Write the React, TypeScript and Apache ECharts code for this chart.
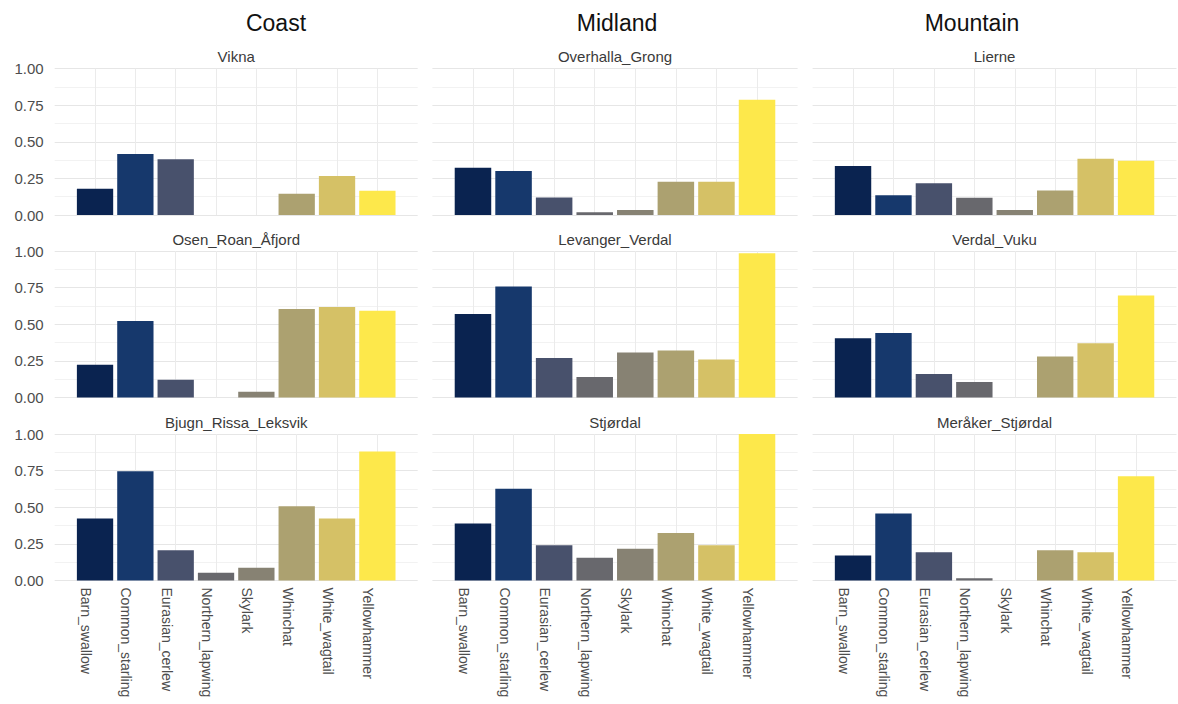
import React, { useEffect, useRef } from "react";
import * as echarts from "echarts";

const species = [
  "Barn_swallow",
  "Common_starling",
  "Eurasian_cerlew",
  "Northern_lapwing",
  "Skylark",
  "Whinchat",
  "White_wagtail",
  "Yellowhammer",
];

const palette = ["#0a2350", "#16386c", "#48516c", "#68686d", "#878273", "#aca170", "#d5c166", "#fde84b"];

const regions = ["Coast", "Midland", "Mountain"];

const panelTitles = [
  ["Vikna", "Overhalla_Grong", "Lierne"],
  ["Osen_Roan_Åfjord", "Levanger_Verdal", "Verdal_Vuku"],
  ["Bjugn_Rissa_Leksvik", "Stjørdal", "Meråker_Stjørdal"],
];

const vikna = [0.18, 0.416, 0.38, 0, 0, 0.145, 0.266, 0.166];
const overhallaGrong = [0.323, 0.3, 0.12, 0.018, 0.034, 0.227, 0.227, 0.786];
const lierne = [0.334, 0.134, 0.216, 0.118, 0.034, 0.168, 0.384, 0.37];
const osenRoanAfjord = [0.224, 0.523, 0.122, 0, 0.04, 0.604, 0.618, 0.593];
const levangerVerdal = [0.57, 0.758, 0.27, 0.14, 0.308, 0.32, 0.26, 0.984];
const verdalVuku = [0.405, 0.44, 0.16, 0.106, 0, 0.28, 0.37, 0.697];
const bjugnRissaLeksvik = [0.423, 0.746, 0.206, 0.053, 0.087, 0.506, 0.423, 0.881];
const stjordal = [0.389, 0.627, 0.24, 0.156, 0.217, 0.325, 0.24, 1.0];
const merakerStjordal = [0.17, 0.458, 0.192, 0.016, 0, 0.206, 0.192, 0.712];

const panelValues = [
  [vikna, overhallaGrong, lierne],
  [osenRoanAfjord, levangerVerdal, verdalVuku],
  [bjugnRissaLeksvik, stjordal, merakerStjordal],
];

const yTicks = [0, 0.25, 0.5, 0.75, 1];

export default function App() {
  const ref = useRef<HTMLDivElement>(null);

  useEffect(() => {
    if (!ref.current) return;
    const chart = echarts.init(ref.current, null, { renderer: "svg" });

    // padded categories: one empty slot at each end so the panel extends past the bars
    const cats = ["", ...species, ""];

    const colLefts = [54.7, 432.4, 812.6];
    const colWidths = [363, 365.2, 363.9];
    const rowTops = [68.5, 251, 434];
    const rowHeight = 146.5;
    const headerX = [276, 617, 972];

    const grids: any[] = [];
    const xAxes: any[] = [];
    const yAxes: any[] = [];
    const series: any[] = [];
    const graphics: any[] = [];

    regions.forEach((r, c) => {
      graphics.push({
        type: "text",
        x: headerX[c],
        y: 23,
        style: {
          text: r,
          fill: "#111",
          font: "23px 'Liberation Sans', Arial, sans-serif",
          textAlign: "center",
          textVerticalAlign: "middle",
        },
      });
    });

    for (let row = 0; row < 3; row++) {
      for (let col = 0; col < 3; col++) {
        const idx = row * 3 + col;
        grids.push({
          left: colLefts[col],
          top: rowTops[row],
          width: colWidths[col],
          height: rowHeight,
          containLabel: false,
        });
        xAxes.push({
          type: "category",
          gridIndex: idx,
          data: cats,
          boundaryGap: false,
          axisLine: { show: false },
          axisTick: { show: false },
          axisLabel: {
            show: row === 2,
            interval: 0,
            rotate: -90,
            margin: 7,
            verticalAlign: "top",
            lineHeight: 18,
            color: "#4d4d4d",
            fontSize: 14,
            fontFamily: "'Liberation Sans', Arial, sans-serif",
          },
          splitLine: {
            show: true,
            interval: (_i: number, v: string) => v !== "",
            lineStyle: { color: "#ebebeb", width: 1 },
          },
        });
        yAxes.push({
          type: "value",
          gridIndex: idx,
          min: 0,
          max: 1,
          interval: 0.25,
          axisLine: { show: false },
          axisTick: { show: false },
          axisLabel: {
            show: col === 0,
            color: "#4d4d4d",
            fontSize: 15,
            margin: 11,
            fontFamily: "'Liberation Sans', Arial, sans-serif",
            formatter: (v: number) => (yTicks.includes(v) ? v.toFixed(2) : ""),
          },
          splitLine: { show: true, lineStyle: { color: "#e6e6e6", width: 1 } },
          minorTick: { show: false, splitNumber: 2 },
          minorSplitLine: { show: true, lineStyle: { color: "#f2f2f2", width: 1 } },
        });
        series.push({
          type: "bar",
          xAxisIndex: idx,
          yAxisIndex: idx,
          data: ["-", ...panelValues[row][col], "-"],
          barCategoryGap: "10%",
          itemStyle: {
            color: (p: any) => palette[p.dataIndex - 1],
          },
          silent: true,
        });
        graphics.push({
          type: "text",
          x: colLefts[col] + colWidths[col] / 2,
          y: rowTops[row] - 12,
          style: {
            text: panelTitles[row][col],
            fill: "#3a3a3a",
            font: "15px 'Liberation Sans', Arial, sans-serif",
            textAlign: "center",
            textVerticalAlign: "middle",
          },
        });
      }
    }

    chart.setOption({
      animation: false,
      backgroundColor: "#ffffff",
      grid: grids,
      xAxis: xAxes,
      yAxis: yAxes,
      series,
      graphic: graphics,
    });

    return () => chart.dispose();
  }, []);

  return (
    <div
      ref={ref}
      style={{ position: "fixed", left: 0, top: 0, width: 1178, height: 704, background: "#fff" }}
    />
  );
}
